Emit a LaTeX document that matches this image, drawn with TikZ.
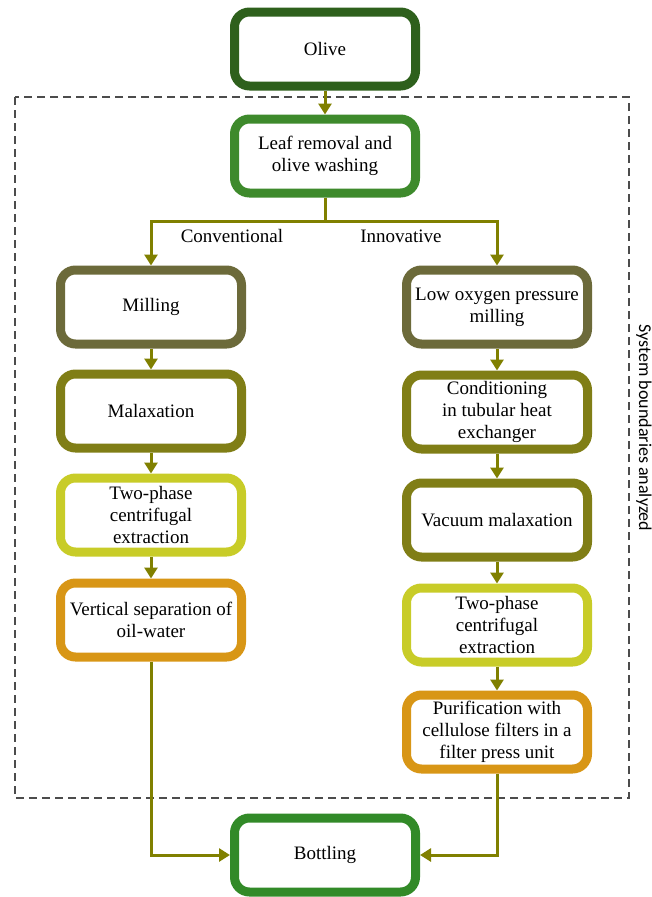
\documentclass[tikz,border=0pt]{standalone}
\usepackage{fontspec}
\setmainfont{Liberation Serif}
\newfontfamily\boundfont{Carlito}
\usetikzlibrary{arrows.meta,positioning}
\definecolor{rawGreen}{RGB}{46,96,28}
\definecolor{washGreen}{RGB}{62,138,44}
\definecolor{millBrown}{RGB}{108,106,58}
\definecolor{malaxOlive}{RGB}{128,126,22}
\definecolor{extractLime}{RGB}{200,204,40}
\definecolor{sepOrange}{RGB}{216,150,22}
\definecolor{bottleGreen}{RGB}{50,138,40}
\definecolor{flowOlive}{RGB}{128,128,0}

\begin{document}
\begin{tikzpicture}[x=1pt,y=-1pt,
  stage/.style={draw, line width=9pt, rounded corners=15pt, fill=white,
                minimum width=181pt, minimum height=74pt, align=center,
                font=\fontsize{19}{22}\selectfont},
  flow/.style={draw=flowOlive, line width=3pt,
               -{Triangle[width=13pt,length=11pt]}},
  route/.style={font=\fontsize{19}{22}\selectfont}
]
\useasboundingbox (0,0) rectangle (652,897);
\draw[draw=black!70, line width=1.5pt, dash pattern=on 8pt off 5pt]
  (15,97) rectangle (629,798);
\node[font=\boundfont\fontsize{18}{21}\selectfont, rotate=-90] (sysb) at (644,428)
  {System boundaries analyzed};

\node[stage, draw=rawGreen] (olive) at (325,49) {Olive};
\node[stage, draw=washGreen] (wash) at (325,156) {Leaf removal and\\olive washing};

\node[stage, draw=millBrown] (mill) at (151,307) {Milling};
\node[stage, draw=malaxOlive] (malax) at (151,411) {Malaxation};
\node[stage, draw=extractLime] (extl) at (151,515) {Two-phase\\centrifugal\\extraction};
\node[stage, draw=sepOrange] (vsep) at (151,620) {Vertical separation of\\oil-water};

\node[stage, draw=millBrown] (lowox) at (497,307) {Low oxygen pressure\\milling};
\node[stage, draw=malaxOlive] (cond) at (497,412) {Conditioning\\in tubular heat\\exchanger};
\node[stage, draw=malaxOlive] (vacm) at (497,520) {Vacuum malaxation};
\node[stage, draw=extractLime] (extr) at (497,625) {Two-phase\\centrifugal\\extraction};
\node[stage, draw=sepOrange] (puri) at (497,732) {Purification with\\cellulose filters in a\\filter press unit};

\node[stage, draw=bottleGreen] (bottle) at (325,855) {Bottling};

\node[route] (conv) at (232,236) {Conventional};
\node[route] (innov) at (401,236) {Innovative};

\draw[flow] (olive) -- (wash);
\draw[flow] (wash.south) -- ++(0,24) -| (mill.north);
\draw[flow] (wash.south) -- ++(0,24) -| (lowox.north);
\draw[flow] (mill) -- (malax);
\draw[flow] (malax) -- (extl);
\draw[flow] (extl) -- (vsep);
\draw[flow] (lowox) -- (cond);
\draw[flow] (cond) -- (vacm);
\draw[flow] (vacm) -- (extr);
\draw[flow] (extr) -- (puri);
\draw[flow] (vsep.south) |- (bottle.west);
\draw[flow] (puri.south) |- (bottle.east);
\end{tikzpicture}
\end{document}
